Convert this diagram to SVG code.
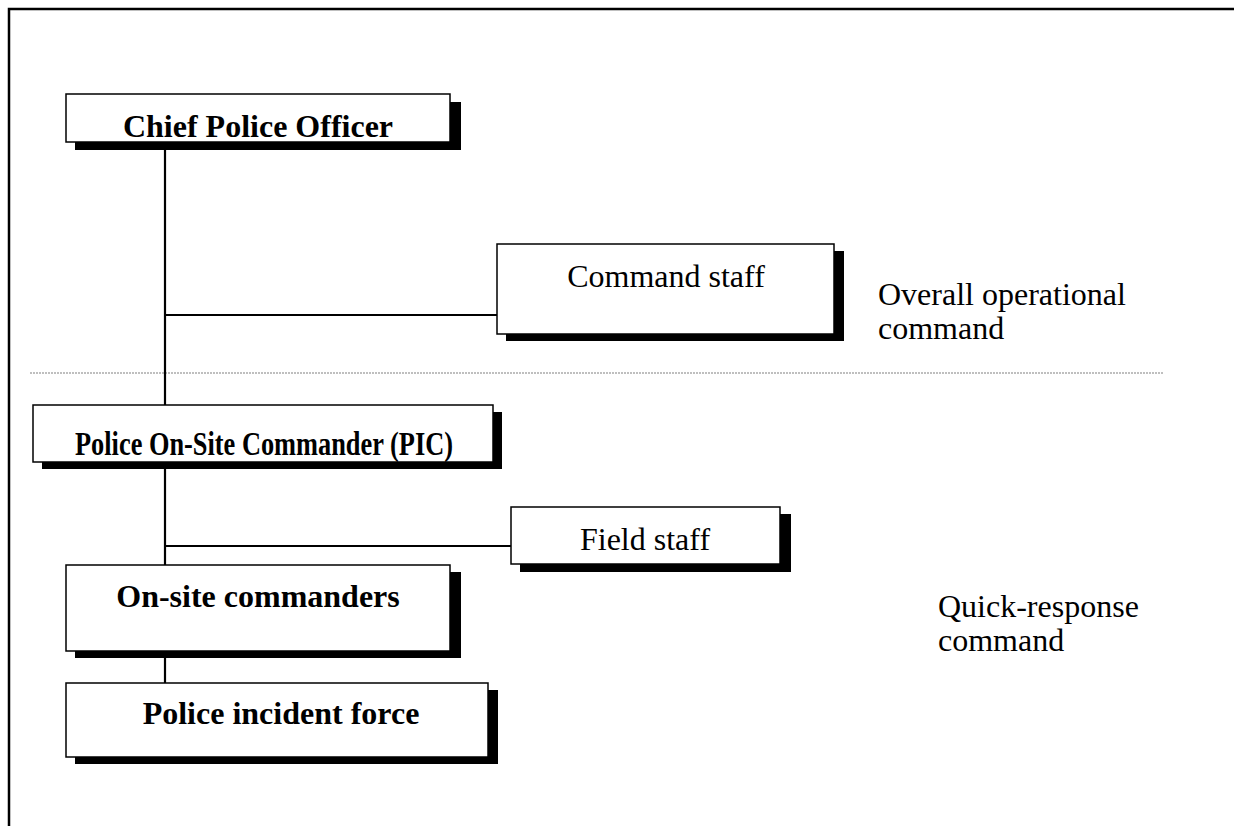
<svg xmlns="http://www.w3.org/2000/svg" width="1234" height="826" viewBox="0 0 1234 826">
<style>
.box{fill:#fff;stroke:#000;stroke-width:1.5}
.sh{fill:#000}
.ln{stroke:#000;stroke-width:2.2;fill:none}
.b{font-family:"Liberation Serif","Times New Roman",serif;font-weight:bold;font-size:32px;text-anchor:middle;fill:#000}
.r{font-family:"Liberation Serif","Times New Roman",serif;font-size:32px;fill:#000}
.rc{text-anchor:middle}
</style>
<rect width="1234" height="826" fill="#fff"/>
<g id="frame">
<path d="M9,826 V9 H1234" stroke="#000" stroke-width="2.5" fill="none"/>
</g>
<line x1="30" y1="373" x2="1163" y2="373" stroke="#808080" stroke-width="1.2" stroke-dasharray="2 1"/>
<g id="connectors">
<path class="ln" d="M165,142 V683"/>
<path class="ln" d="M165,315 H497"/>
<path class="ln" d="M165,546 H511"/>
</g>
<g id="chief">
<rect class="sh" x="75" y="102" width="386" height="48"/>
<rect class="box" x="66" y="94" width="384" height="48"/>
<text class="b" x="258" y="137">Chief Police Officer</text>
</g>
<g id="command-staff">
<rect class="sh" x="506" y="251" width="338" height="90"/>
<rect class="box" x="497" y="244" width="337" height="90"/>
<text class="r rc" x="666" y="287">Command staff</text>
</g>
<g id="pic">
<rect class="sh" x="42" y="412" width="460" height="57"/>
<rect class="box" x="33" y="405" width="460" height="57"/>
<text class="b" x="264" y="455" style="font-size:34px" textLength="378" lengthAdjust="spacingAndGlyphs">Police On-Site Commander (PIC)</text>
</g>
<g id="field-staff">
<rect class="sh" x="520" y="514" width="271" height="58"/>
<rect class="box" x="511" y="507" width="269" height="57"/>
<text class="r rc" x="645" y="550">Field staff</text>
</g>
<g id="onsite">
<rect class="sh" x="75" y="572" width="386" height="86"/>
<rect class="box" x="66" y="565" width="384" height="86"/>
<text class="b" x="258" y="607">On-site commanders</text>
</g>
<g id="incident">
<rect class="sh" x="75" y="690" width="423" height="74"/>
<rect class="box" x="66" y="683" width="422" height="74"/>
<text class="b" x="281" y="724">Police incident force</text>
</g>
<g id="label-overall">
<text class="r" x="878" y="305">Overall operational</text>
<text class="r" x="878" y="339">command</text>
</g>
<g id="label-quick">
<text class="r" x="938" y="617">Quick-response</text>
<text class="r" x="938" y="651">command</text>
</g>
</svg>
